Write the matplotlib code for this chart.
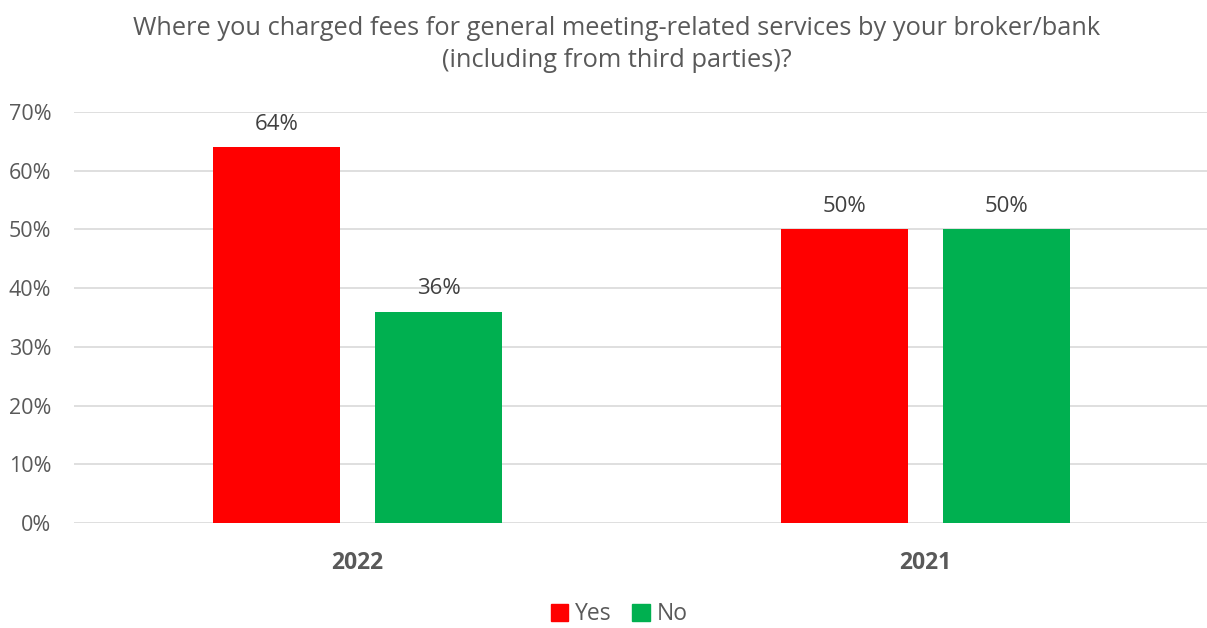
import numpy as np
import matplotlib.pyplot as plt
from matplotlib.ticker import MultipleLocator, PercentFormatter
from matplotlib.patches import Patch

# Survey answers, share of respondents (%)
YEARS = ['2022', '2021']
YES = [64, 50]
NO = [36, 50]

TITLE = ('Where you charged fees for general meeting-related services by your broker/bank\n'
         '(including from third parties)?')
TEXT_GREY = '#595959'
RED = '#ff0000'
GREEN = '#00b050'

plt.rcParams['font.family'] = ['Open Sans', 'DejaVu Sans']

fig = plt.figure(figsize=(12.07, 6.28), dpi=100)
ax = fig.add_axes([0.061, 0.167, 0.941, 0.655])

x = np.arange(len(YEARS))
width = 0.224
offset = 0.143

bars_yes = ax.bar(x - offset, YES, width, color=RED, zorder=3)
bars_no = ax.bar(x + offset, NO, width, color=GREEN, zorder=3)

for bars, vals in ((bars_yes, YES), (bars_no, NO)):
    for b, v in zip(bars, vals):
        ax.annotate(f'{v}%', (b.get_x() + b.get_width() / 2, v), xytext=(0, 9),
                    textcoords='offset points', ha='center', va='bottom',
                    fontsize=16, color='#404040')

ax.set_xlim(-0.5, len(YEARS) - 0.5)
ax.set_ylim(0, 70)
ax.yaxis.set_major_locator(MultipleLocator(10))
ax.yaxis.set_major_formatter(PercentFormatter(decimals=0))
ax.grid(axis='y', color='#d9d9d9', linewidth=1.2, zorder=0)
ax.set_axisbelow(True)

ax.set_xticks(x)
ax.set_xticklabels(YEARS, fontsize=16.5, fontweight='bold', color=TEXT_GREY)
ax.tick_params(axis='y', labelsize=15.5, labelcolor=TEXT_GREY, length=0, pad=16)
ax.tick_params(axis='x', length=0, pad=20)
for s in ax.spines.values():
    s.set_visible(False)

fig.text(0.511, 0.975, TITLE, fontsize=18.3, color=TEXT_GREY, ha='center', va='top',
         linespacing=1.4, multialignment='center')

handles = [Patch(color=RED, label='Yes'), Patch(color=GREEN, label='No')]
fig.legend(handles=handles, loc='lower center', ncol=2, frameon=False,
           bbox_to_anchor=(0.513, -0.03), fontsize=16.5, labelcolor=TEXT_GREY,
           handlelength=0.75, handleheight=0.75, handletextpad=0.3, columnspacing=0.9)

fig.savefig('out.png', dpi=100)
